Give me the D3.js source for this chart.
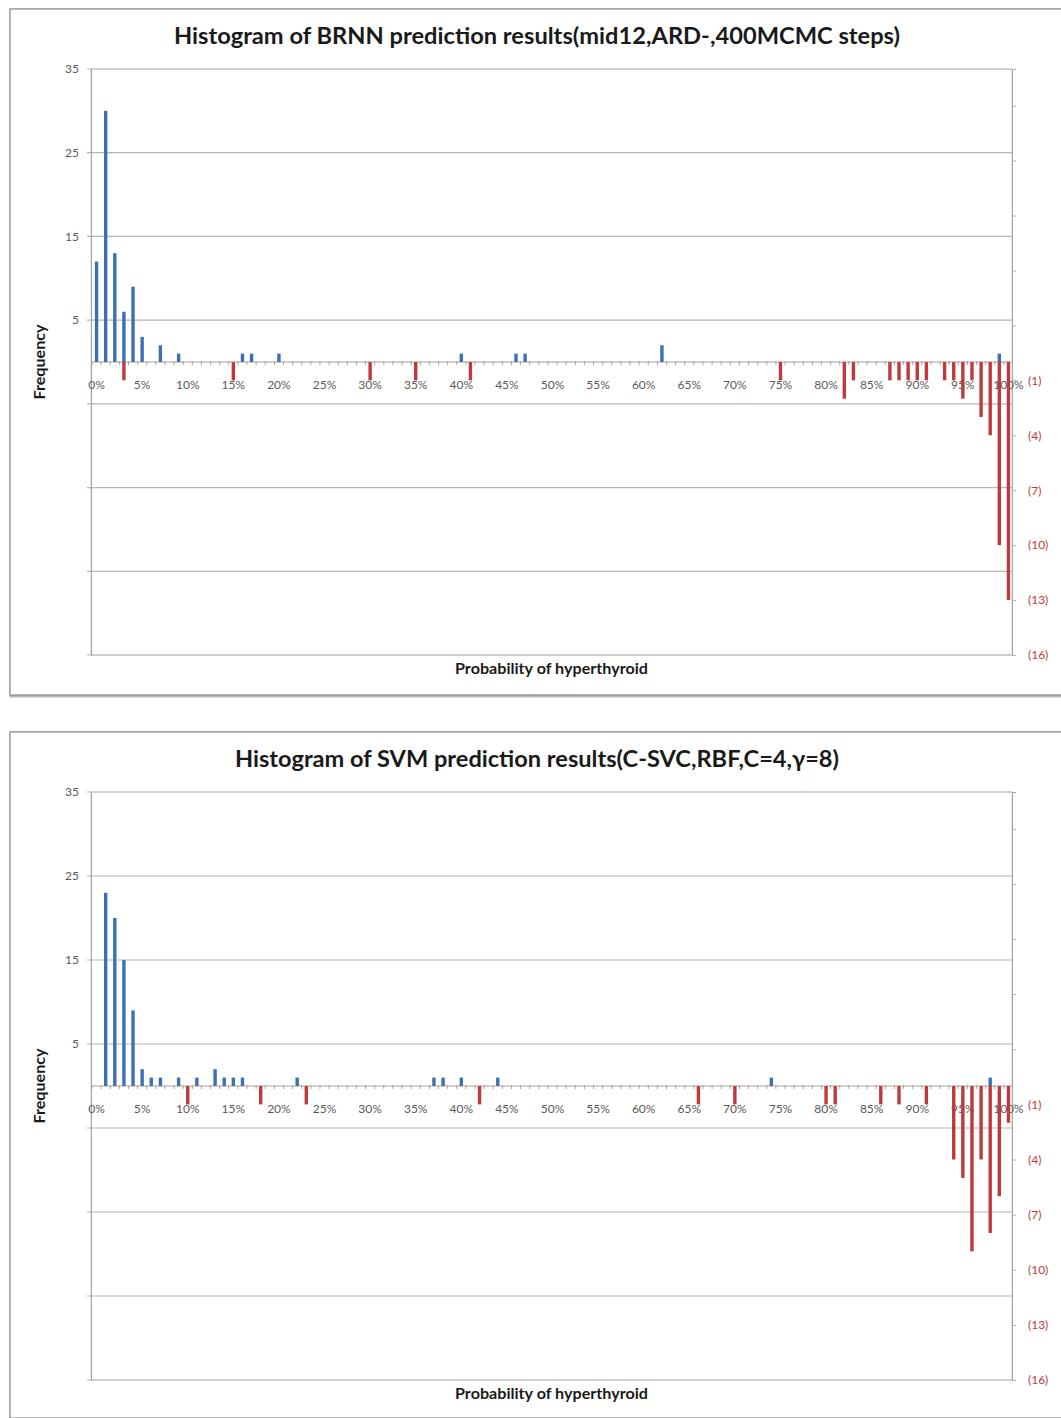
<!DOCTYPE html>
<html>
<head>
<meta charset="utf-8">
<script src="https://cdn.jsdelivr.net/npm/d3@7"></script>
<style>
  body { margin: 0; background: #fff; }
  svg text { font-family: Lato, "Open Sans", sans-serif; }
</style>
</head>
<body>
<div id="vis"></div>
<script>
var width = 1061,
    height = 1418;

// percent categories on the x axis (0% .. 100%, one bin per percent)
var categories = d3.range(0, 101);
var xTickLabels = ["0%", "5%", "10%", "15%", "20%", "25%", "30%", "35%", "40%", "45%", "50%",
                   "55%", "60%", "65%", "70%", "75%", "80%", "85%", "90%", "95%", "100%"];

// left axis (blue, upwards) and right axis (red, downwards)
var leftTicks = [-35, -25, -15, -5, 5, 15, 25, 35];
var rightTicks = [-16, -13, -10, -7, -4, -1, 2, 5, 8, 11, 14];

// BRNN: [percent, frequency]
var brnnNormal = [[0, 12], [1, 30], [2, 13], [3, 6], [4, 9], [5, 3], [7, 2], [9, 1], [16, 1], [17, 1],
                  [20, 1], [40, 1], [46, 1], [47, 1], [62, 2], [99, 1]];
var brnnHyper = [[3, 1], [15, 1], [30, 1], [35, 1], [41, 1], [75, 1], [82, 2], [83, 1], [87, 1], [88, 1],
                 [89, 1], [90, 1], [91, 1], [93, 1], [94, 1], [95, 2], [96, 1], [97, 3], [98, 4], [99, 10], [100, 13]];

// SVM: [percent, frequency]
var svmNormal = [[1, 23], [2, 20], [3, 15], [4, 9], [5, 2], [6, 1], [7, 1], [9, 1], [11, 1], [13, 2],
                 [14, 1], [15, 1], [16, 1], [22, 1], [37, 1], [38, 1], [40, 1], [44, 1], [74, 1], [98, 1]];
var svmHyper = [[10, 1], [18, 1], [23, 1], [42, 1], [66, 1], [70, 1], [80, 1], [81, 1], [86, 1], [88, 1],
                [91, 1], [94, 4], [95, 5], [96, 9], [97, 4], [98, 8], [99, 6], [100, 2]];

var blue = "#3d70b2",
    red = "#be3a3c",
    gridColor = "#bdb4ae",
    tickText = "#5a5a5a";

var svg = d3.select('#vis').append('svg')
    .attr("width", width)
    .attr("height", height);

function drawChart(top, plotH, title, titleLen, normal, hyper) {
    var g = svg.append("g").attr("transform", "translate(0," + top + ")");

    // chart frame
    g.append("rect")
        .attr("x", 11).attr("y", 1)
        .attr("width", 1070).attr("height", 686)
        .attr("fill", "none")
        .attr("stroke", "#b8b8b8")
        .attr("stroke-width", 3);
    g.append("rect")
        .attr("x", 10).attr("y", 0)
        .attr("width", 1070).attr("height", 686)
        .attr("fill", "#fff")
        .attr("stroke", "#8a8a8a")
        .attr("stroke-width", 1.2);

    var plotL = 91, plotR = 1012, plotT = 60, plotB = 60 + plotH;

    var x = d3.scaleBand().domain(categories).range([plotL + 1, plotR + 1]);
    var yLeft = d3.scaleLinear().domain([-35, 35]).range([plotB, plotT]);
    var yRight = d3.scaleLinear().domain([-16, 16]).range([plotB, plotT]);
    var zero = yLeft(0);

    // title
    g.append("text")
        .attr("x", 537).attr("y", 35)
        .attr("text-anchor", "middle")
        .attr("font-size", 22)
        .attr("font-weight", "bold")
        .attr("fill", "#1a1a1a")
        .attr("textLength", titleLen)
        .attr("lengthAdjust", "spacingAndGlyphs")
        .text(title);

    // plot area border
    g.append("rect")
        .attr("x", plotL).attr("y", plotT)
        .attr("width", plotR - plotL).attr("height", plotB - plotT)
        .attr("fill", "none")
        .attr("stroke", "#d4d0cc");

    // gridlines from left axis
    g.selectAll("line.grid")
        .data(leftTicks)
        .enter().append("line")
        .attr("class", "grid")
        .attr("x1", plotL - 4).attr("x2", plotR)
        .attr("y1", function(d) { return yLeft(d); })
        .attr("y2", function(d) { return yLeft(d); })
        .attr("stroke", gridColor)
        .attr("stroke-width", 1.2);

    // left axis
    var leftAxis = d3.axisLeft(yLeft)
        .tickValues(leftTicks)
        .tickSize(0)
        .tickPadding(12)
        .tickFormat(function(d) { return d > 0 ? d : ""; });
    var la = g.append("g").attr("transform", "translate(" + plotL + ",0)").call(leftAxis);
    la.select(".domain").attr("stroke", "#a9a29d");
    la.selectAll("text").attr("font-size", 12).attr("fill", tickText)
        .attr("font-family", "Lato, 'Open Sans', sans-serif");

    // right axis
    var rightAxis = d3.axisRight(yRight)
        .tickValues(rightTicks)
        .tickSize(4)
        .tickPadding(12)
        .tickFormat(function(d) { return d < 0 ? "(" + (-d) + ")" : ""; });
    var ra = g.append("g").attr("transform", "translate(" + plotR + ",0)").call(rightAxis);
    ra.select(".domain").attr("stroke", "#a9a29d");
    ra.selectAll(".tick line").attr("stroke", "#b5aea9");
    ra.selectAll("text").attr("font-size", 12).attr("fill", red)
        .attr("font-family", "Lato, 'Open Sans', sans-serif");

    // x category ticks along the zero line
    g.append("line")
        .attr("x1", plotL).attr("x2", plotR)
        .attr("y1", zero).attr("y2", zero)
        .attr("stroke", "#a9a29d");
    g.selectAll("line.xtick")
        .data(categories)
        .enter().append("line")
        .attr("class", "xtick")
        .attr("x1", function(d) { return x(d); })
        .attr("x2", function(d) { return x(d); })
        .attr("y1", zero - 1).attr("y2", zero + 3)
        .attr("stroke", "#a9a29d");

    // x tick labels every 5%
    g.selectAll("text.xlab")
        .data(xTickLabels)
        .enter().append("text")
        .attr("class", "xlab")
        .attr("x", function(d) { return x(+d.replace("%", "")) + x.bandwidth() / 2; })
        .attr("y", zero + 27)
        .attr("text-anchor", "middle")
        .attr("font-size", 12)
        .attr("fill", tickText)
        .text(function(d) { return d; });

    var barW = 3.4;

    // blue bars on the left axis
    g.selectAll("rect.normal")
        .data(normal)
        .enter().append("rect")
        .attr("class", "normal")
        .attr("x", function(d) { return x(d[0]) + x.bandwidth() / 2 - barW / 2; })
        .attr("y", function(d) { return yLeft(d[1]); })
        .attr("width", barW)
        .attr("height", function(d) { return zero - yLeft(d[1]); })
        .attr("fill", blue);

    // red bars on the right axis, drawn downwards
    g.selectAll("rect.hyper")
        .data(hyper)
        .enter().append("rect")
        .attr("class", "hyper")
        .attr("x", function(d) { return x(d[0]) + x.bandwidth() / 2 - barW / 2; })
        .attr("y", yRight(0))
        .attr("width", barW)
        .attr("height", function(d) { return yRight(-d[1]) - yRight(0); })
        .attr("fill", red);

    // axis titles
    g.append("text")
        .attr("transform", "translate(45," + ((plotT + plotB) / 2) + ") rotate(-90)")
        .attr("text-anchor", "middle")
        .attr("font-size", 15)
        .attr("font-weight", "bold")
        .attr("fill", "#1a1a1a")
        .attr("textLength", 75)
        .attr("lengthAdjust", "spacingAndGlyphs")
        .text("Frequency");

    g.append("text")
        .attr("x", (plotL + plotR) / 2).attr("y", plotB + 19)
        .attr("text-anchor", "middle")
        .attr("font-size", 15)
        .attr("font-weight", "bold")
        .attr("fill", "#1a1a1a")
        .attr("textLength", 193)
        .attr("lengthAdjust", "spacingAndGlyphs")
        .text("Probability of hyperthyroid");
}

drawChart(9, 586, "Histogram of BRNN prediction results(mid12,ARD-,400MCMC steps)", 726, brnnNormal, brnnHyper);
drawChart(732, 588, "Histogram of SVM prediction results(C-SVC,RBF,C=4,\u03b3=8)", 604, svmNormal, svmHyper);
</script>
</body>
</html>
